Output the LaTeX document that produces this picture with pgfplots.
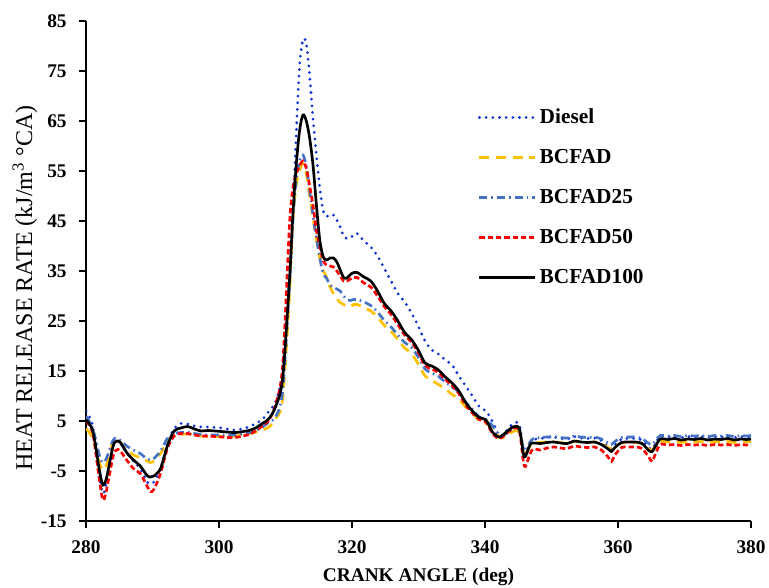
\documentclass[border=0pt]{standalone}
\usepackage{fontspec}
\setmainfont{Liberation Serif}
\usepackage{pgfplots}
\usepackage{pgfplotstable}
\pgfplotsset{compat=1.18}
\definecolor{dieselblue}{RGB}{12,52,214}
\definecolor{bcfadorange}{RGB}{255,192,0}
\definecolor{bcfadsteel}{RGB}{68,114,196}
\definecolor{bcfadred}{RGB}{255,0,0}

% crank angle, diesel, BCFAD, BCFAD25, BCFAD50, BCFAD100
\pgfplotstableread{
x       d      b      b25    b50    b100
280     6.9    3.5    6.0    5.0    5.2
281.02  4.0    1.5    3.5    2.5    3.0
282.04 -6.0   -3.5   -2.0   -7.0   -5.0
282.55 -9.5   -4.8   -3.3   -10.8  -7.8
283.06 -7.5   -3.8   -2.5   -9.0   -6.5
284.08  0.0    1.0    1.2   -2.0    0.0
284.59  1.0    1.2    1.5   -0.8    0.9
285.10  0.8    0.8    1.2   -0.9    0.8
286.12 -1.3   -0.5    0.0   -2.8   -1.3
287.14 -3.0   -1.8   -0.8   -4.5   -2.8
288.16 -4.5   -2.3   -1.5   -5.5   -4.0
289.18 -7.2   -3.0   -2.6   -8.0   -5.9
289.69 -7.5   -3.3   -2.8   -9.1   -6.2
290.20 -7.2   -3.0   -2.5   -8.7   -6.0
291.21 -4.5   -1.5   -1.0   -5.5   -4.5
292.23  0.5    1.0    1.5   -0.5    0.0
293.25  3.5    2.0    2.5    2.0    3.0
294.27  4.5    2.3    2.7    2.5    3.6
295.29  4.4    2.4    2.8    2.5    3.9
296.31  4.0    2.2    2.5    2.2    3.4
297.33  3.8    2.0    2.3    2.0    3.0
298.35  3.8    1.9    2.2    2.0    3.1
300.39  3.6    1.9    2.2    1.8    2.9
302.43  3.2    2.0    2.2    1.7    2.7
304.47  3.8    2.4    2.6    2.3    3.1
305.49  4.5    2.8    3.0    3.0    3.6
306.51  5.3    3.2    3.8    4.0    4.5
307.53  7.0    3.8    4.8    5.2    5.5
308.55  9.0    5.5    5.9    8.5    8.0
309.57 15.0    9.5   11.0   16.0   13.5
310.59 34.0   30.0   32.0   44.0   33.0
311.10 46.0   45.0   45.0   51.5   46.0
311.60 62.0   52.0   53.0   54.5   56.0
312.11 76.0   55.0   57.0   56.0   63.0
312.62 81.2   56.5   58.2   57.0   66.2
313.13 80.5   54.5   56.0   55.5   65.0
313.64 74.0   50.0   51.0   52.0   61.5
314.15 65.2   45.5   46.0   48.0   56.0
314.66 58.0   41.2   41.5   43.0   48.0
315.17 51.5   37.5   37.5   39.9   41.0
315.68 47.0   35.0   34.5   37.0   37.8
316.19 45.9   33.8   33.5   36.2   37.2
316.70 46.3   31.8   32.2   36.0   37.6
317.21 46.2   30.5   31.7   35.8   37.6
317.72 45.2   29.5   31.4   35.0   36.8
318.23 43.8   28.7   31.0   34.0   35.2
318.74 42.0   28.3   30.0   33.0   33.7
319.25 41.5   27.9   29.3   33.0   33.6
319.76 41.6   27.9   29.1   33.4   34.3
320.27 42.3   28.3   29.3   33.7   34.7
320.78 42.5   28.3   29.3   33.7   34.7
321.80 41.0   27.7   28.8   32.6   33.8
322.82 39.8   27.0   28.1   31.8   33.0
323.84 38.0   25.8   26.8   30.0   31.0
324.86 35.5   24.1   25.1   27.9   28.5
325.88 33.0   22.9   23.8   26.3   27.0
326.90 30.5   21.3   22.2   24.3   25.0
327.92 28.8   19.6   20.7   22.2   22.7
328.94 26.6   18.5   19.7   20.8   21.3
329.96 24.0   16.4   17.8   18.7   19.2
330.98 21.0   14.0   15.4   16.1   16.6
332.00 19.2   13.1   14.6   15.4   16.0
333.01 18.4   12.3   13.9   14.7   15.2
334.03 17.2   11.4   12.8   13.3   13.8
335.05 16.2   10.3   11.8   12.1   12.6
336.07 14.0    9.4   10.8   10.5   11.0
337.09 12.0    7.8    8.8    8.2    8.7
338.11 10.0    6.6    7.3    6.6    7.0
339.13  7.9    5.1    5.8    5.3    5.7
340.15  7.0    4.5    5.3    4.8    5.2
341.17  4.8    3.8    4.0    2.4    2.7
342.19  2.0    1.7    2.0    1.5    1.8
343.21  3.0    2.0    2.5    2.5    2.8
344.23  4.5    2.9    3.5    3.5    3.8
345.15  4.3    2.8    3.3    3.1    3.5
345.76 -0.8   -1.0   -0.5   -3.0   -1.5
346.07 -1.5   -1.5   -1.0   -4.1   -2.1
346.79  0.8    0.0    0.8   -1.5    0.3
347.29  1.3    0.6    1.5   -0.6    0.6
348.31  1.5    0.7    1.7   -0.8    0.5
349.33  1.7    0.8    1.8   -0.4    0.7
350.35  1.8    0.8    1.9   -0.2    0.8
351.37  1.5    0.7    1.7   -0.4    0.6
352.39  1.4    0.6    1.6   -0.5    0.5
353.41  1.9    0.9    2.0    0.0    1.0
354.43  1.6    0.8    1.8   -0.2    0.8
355.45  1.5    0.7    1.7   -0.3    0.7
356.47  1.6    0.8    1.8   -0.2    0.8
357.49  1.1    0.4    1.4   -0.8    0.3
358.51 -0.2   -0.3    0.6   -2.2   -0.6
359.02 -0.6   -0.6    0.3   -3.1   -1.1
359.53  0.2   -0.1    0.9   -1.8   -0.3
360.55  1.4    0.6    1.7   -0.3    0.7
361.57  1.5    0.7    1.8   -0.2    0.8
362.59  1.5    0.7    1.8   -0.2    0.8
363.61  1.2    0.5    1.5   -0.5    0.5
364.63 -0.3   -0.6    0.5   -2.2   -0.9
365.14 -0.6   -0.8    0.3   -3.1   -1.1
365.65  0.6    0.0    1.1   -1.5    0.0
366.37  1.9    0.9    2.1    0.3    1.4
367.5   1.8    0.8    2.0    0.2    1.3
368.5   1.9    0.9    2.1    0.3    1.5
369.5   1.7    0.7    1.9    0.1    1.2
370.5   1.9    0.9    2.1    0.3    1.4
371.5   1.8    0.8    2.0    0.2    1.3
372.5   1.9    0.9    2.1    0.3    1.5
373.5   1.7    0.7    1.9    0.1    1.2
374.5   1.9    0.9    2.1    0.3    1.4
375.5   1.8    0.8    2.0    0.2    1.3
376.5   1.9    0.9    2.1    0.3    1.5
377.5   1.7    0.7    1.9    0.1    1.2
378.5   1.9    0.9    2.1    0.3    1.4
379.3   1.8    0.8    2.0    0.2    1.3
380     1.9    0.9    2.1    0.3    1.4
}\hrrdata

\begin{document}
\begin{tikzpicture}
\begin{axis}[
    scale only axis,
    width=498.75pt, height=375pt,
    xmin=280, xmax=380,
    ymin=-15, ymax=85,
    xtick={280,300,...,380},
    ytick={-15,-5,...,85},
    axis lines*=left,
    axis line style={line width=1.6pt},
    tick align=outside,
    major tick length=5pt,
    tick style={line width=1.6pt, black},
    /pgf/number format/assume math mode=true,
    tick label style={font=\bfseries\fontsize{14.5}{16}\selectfont},
    xticklabel style={yshift=-6pt},
    yticklabel style={xshift=-6pt},
    xlabel={\textbf{CRANK ANGLE (deg)}},
    ylabel={HEAT RELEASE RATE (kJ/m\textsuperscript{3} °CA)},
    xlabel style={font=\fontsize{14.5}{16}\selectfont,
        at={(axis description cs:0.5,-0.112)}, anchor=center},
    ylabel style={font=\fontsize{18}{20}\selectfont,
        at={(axis description cs:-0.092,0.466)}, anchor=center},
    legend cell align=left,
    legend style={at={(0.583,0.835)}, anchor=north west, draw=none, fill=none,
        font=\bfseries\fontsize{16}{18}\selectfont, row sep=13.8pt},
    legend image code/.code={\draw[#1] (0pt,0pt) -- (42pt,0pt);},
    every axis plot/.append style={line width=2pt},
]
\addplot[smooth, dieselblue, line width=2.3pt, line cap=round, dash pattern=on 0pt off 5pt]
    table[x=x, y=d] {\hrrdata};
\addlegendentry{Diesel}
\addplot[smooth, bcfadorange, dash pattern=on 7.5pt off 5pt]
    table[x=x, y=b] {\hrrdata};
\addlegendentry{BCFAD}
\addplot[smooth, bcfadsteel, dash pattern=on 6pt off 3pt on 1.2pt off 3pt]
    table[x=x, y=b25] {\hrrdata};
\addlegendentry{BCFAD25}
\addplot[smooth, bcfadred, dash pattern=on 4pt off 2.2pt]
    table[x=x, y=b50] {\hrrdata};
\addlegendentry{BCFAD50}
\addplot[smooth, black]
    table[x=x, y=b100] {\hrrdata};
\addlegendentry{BCFAD100}
\end{axis}
\pgfresetboundingbox
\path ([shift={(-64.5pt,-49.5pt)}]current axis.south west)
    rectangle ([shift={(13.5pt,15.75pt)}]current axis.north east);
\end{tikzpicture}
\end{document}
